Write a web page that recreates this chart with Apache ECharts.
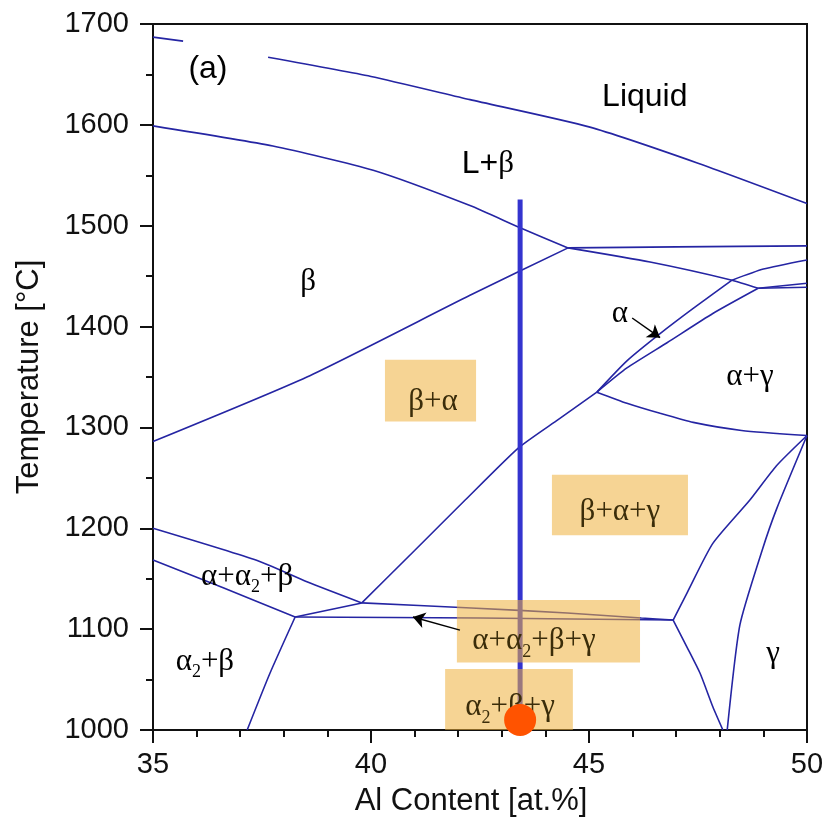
<!DOCTYPE html>
<html><head><meta charset="utf-8">
<script src="https://cdn.jsdelivr.net/npm/echarts@6/dist/echarts.min.js"></script>
<style>html,body{margin:0;padding:0;background:#fff}#c{width:828px;height:828px}</style>
</head><body><div id="c"></div>
<script>
// ---- axes ----
const xTicks = [35, 40, 45, 50];
const yTicks = [1000, 1100, 1200, 1300, 1400, 1500, 1600, 1700];

// ---- phase boundaries [Al at.%, T °C] ----
const liquidusA = [[35, 1687], [35.69, 1683]];
const liquidusB = [[37.64, 1667], [40, 1648], [42.27, 1625], [45, 1598], [47.5, 1562], [50, 1522]];
const betaSolidus = [[35, 1599], [37.75, 1579], [40.05, 1555], [42.27, 1520], [43.42, 1498], [44.52, 1478]];
const peritectic = [[44.52, 1478], [47, 1479], [50, 1480]];
const betaTransus = [[35, 1286], [38.53, 1350], [42.27, 1431], [44.52, 1478]];
const alphaSolidus = [[44.52, 1478], [46.4, 1464], [48.28, 1446], [48.88, 1438]];
const alphaLiquidus = [[48.28, 1446], [49, 1457], [50, 1466]];
const gammaPeritecticA = [[48.88, 1438], [50, 1443]];
const gammaPeritecticB = [[48.88, 1438], [50, 1439]];
const alphaLeft = [[48.28, 1446], [47.39, 1418], [46.63, 1393], [45.87, 1366], [45.18, 1335]];
const alphaRight = [[48.88, 1438], [47.84, 1413], [46.79, 1384], [45.87, 1359], [45.18, 1335]];
const betaAlphaLower = [[45.18, 1335], [44.3, 1308], [43.39, 1280], [42.16, 1228], [41, 1178], [39.79, 1126]];
const alphaGammaLower = [[45.18, 1335], [45.87, 1324], [46.63, 1314], [47.39, 1305], [48.5, 1297], [50, 1292]];
const gammaLeftUpper = [[50, 1292], [49.3, 1262], [48.69, 1228], [47.84, 1185], [47.25, 1136], [46.93, 1109]];
const gammaSolvus = [[50, 1292], [49.31, 1220], [48.97, 1178], [48.46, 1104], [48.17, 1000]];
const gammaLeftLower = [[46.93, 1109], [47.25, 1082], [47.55, 1056], [47.84, 1023], [48.07, 1000]];
const eutectoidLower = [[38.26, 1112], [42.5, 1111], [46.93, 1109]];
const eutectoidUpper = [[39.79, 1126], [42.3, 1121], [44.5, 1116], [46.2, 1111], [46.93, 1109]];
const eutectoidLink = [[38.26, 1112], [39.79, 1126]];
const alpha2UpperLeft = [[35, 1200], [37.39, 1168], [38.53, 1147], [39.79, 1126]];
const alpha2LowerLeft = [[35, 1168.5], [36.61, 1141], [38.26, 1112]];
const alpha2Boundary = [[38.26, 1112], [37.68, 1056], [37.16, 1000]];

// ---- alloy marker ----
const alloyLine = [[43.42, 1526], [43.42, 1010]];
const alloyPoint = [[43.42, 1010]];

// ---- highlighted region boxes [x0, x1, T0, T1] ----
const boxes = [
  [40.32, 42.41, 1306, 1367],
  [44.15, 47.27, 1193, 1253],
  [41.97, 46.17, 1067, 1129],
  [41.70, 44.63, 1000, 1060.5]
];

// ---- arrows [x0, T0, x1, T1] ----
const arrows = [
  [45.99, 1408.5, 46.63, 1389],
  [42.04, 1099, 40.96, 1112]
];

// ---- region labels [x, T, rich text] ----
const plainLabels = [
  [36.26, 1655, '{sa|(a)}'],
  [46.28, 1627, '{sl|Liquid}'],
  [42.68, 1561, '{sa|L+}{se|β}'],
  [38.56, 1444, '{se|β}'],
  [45.71, 1413, '{se|α}'],
  [48.69, 1350, '{se|α+γ}'],
  [37.16, 1152, '{se|α+α}{sb|2}{se|+β}'],
  [36.19, 1068, '{se|α}{sb|2}{se|+β}'],
  [49.22, 1075, '{se|γ}']
];
const boxLabels = [
  [41.42, 1325, '{be|β+α}'],
  [45.71, 1216, '{be|β+α+γ}'],
  [43.74, 1088, '{be|α+α}{bb|2}{be|+β+γ}'],
  [43.19, 1023, '{be|α}{bb|2}{be|+β+γ}']
];

const phaseColor = '#2525a3';
const curves = [liquidusA, liquidusB, betaSolidus, peritectic, betaTransus, alphaSolidus, alphaLiquidus,
  gammaPeritecticA, gammaPeritecticB, alphaLeft, alphaRight, betaAlphaLower, alphaGammaLower,
  gammaLeftUpper, gammaSolvus, gammaLeftLower, eutectoidLower, eutectoidUpper, eutectoidLink,
  alpha2UpperLeft, alpha2LowerLeft, alpha2Boundary];

const series = curves.map(c => ({
  type: 'line', data: c, symbol: 'none', smooth: c.length > 2 ? 0.2 : false,
  lineStyle: { color: phaseColor, width: 1.6 }, z: 2, silent: true, animation: false
}));

series.push({
  type: 'line', data: alloyLine, symbol: 'none',
  lineStyle: { color: '#3434cf', width: 5 }, z: 3, silent: true
});

series.push({
  type: 'custom', z: 5, silent: true, data: boxes,
  encode: { x: [0, 1], y: [2, 3] },
  renderItem: function (params, api) {
    const p0 = api.coord([api.value(0), api.value(3)]);
    const p1 = api.coord([api.value(1), api.value(2)]);
    return { type: 'rect', shape: { x: p0[0], y: p0[1], width: p1[0] - p0[0], height: p1[1] - p0[1] },
      style: { fill: 'rgba(239,177,60,0.55)' } };
  }
});

const rich = {
  sa: { fontFamily: 'Liberation Sans', fontSize: 32, color: '#000', lineHeight: 40 },
  sl: { fontFamily: 'Liberation Sans', fontSize: 32, color: '#000', lineHeight: 40 },
  se: { fontFamily: 'Liberation Serif', fontSize: 31, color: '#000', lineHeight: 40 },
  sb: { fontFamily: 'Liberation Serif', fontSize: 18, color: '#000', lineHeight: 14, verticalAlign: 'bottom' },
  be: { fontFamily: 'Liberation Serif', fontSize: 31, color: '#3b2d0a', lineHeight: 40 },
  bb: { fontFamily: 'Liberation Serif', fontSize: 18, color: '#3b2d0a', lineHeight: 14, verticalAlign: 'bottom' }
};

series.push({
  type: 'scatter', z: 8, silent: true, symbolSize: 1, itemStyle: { color: 'rgba(0,0,0,0)', opacity: 1 },
  data: plainLabels.concat(boxLabels).map(l => ({ value: [l[0], l[1]], label: { formatter: l[2] } })),
  label: { show: true, position: 'inside', align: 'center', verticalAlign: 'middle', rich: rich, opacity: 1 }
});

series.push({
  type: 'lines', coordinateSystem: 'cartesian2d', z: 9, silent: true,
  symbol: ['none', 'arrow'], symbolSize: 12,
  lineStyle: { color: '#000', width: 1.5, opacity: 1, curveness: 0 },
  data: arrows.map(a => ({ coords: [[a[0], a[1]], [a[2], a[3]]] }))
});

series.push({
  type: 'scatter', z: 10, silent: true, data: alloyPoint, symbolSize: 32,
  itemStyle: { color: '#ff5300', opacity: 1 }
});

const axisCommon = {
  type: 'value',
  axisLine: { show: true, onZero: false, lineStyle: { color: '#111', width: 2 } },
  axisTick: { show: true, length: 13, lineStyle: { color: '#111', width: 2 } },
  splitLine: { show: false },
  minorSplitLine: { show: false },
  axisLabel: { fontSize: 29, color: '#111', fontFamily: 'Liberation Sans', formatter: v => String(v) },
  nameLocation: 'middle',
  nameTextStyle: { fontSize: 31, color: '#111', fontFamily: 'Liberation Sans' }
};

const chart = echarts.init(document.getElementById('c'), null, { renderer: 'canvas' });
chart.setOption({
  animation: false,
  backgroundColor: '#fff',
  grid: { left: 153, right: 21, top: 24, bottom: 98, show: true, borderColor: '#111', borderWidth: 2 },
  xAxis: Object.assign({}, axisCommon, {
    min: xTicks[0], max: xTicks[xTicks.length - 1], interval: 5,
    minorTick: { show: true, splitNumber: 5, length: 7, lineStyle: { color: '#111', width: 2 } },
    axisLabel: Object.assign({}, axisCommon.axisLabel, { margin: 20 }),
    name: 'Al Content [at.%]', nameGap: 56,
    nameTextStyle: Object.assign({}, axisCommon.nameTextStyle, { padding: [0, 18, 0, 0] })
  }),
  yAxis: Object.assign({}, axisCommon, {
    min: yTicks[0], max: yTicks[yTicks.length - 1], interval: 100,
    minorTick: { show: true, splitNumber: 2, length: 7, lineStyle: { color: '#111', width: 2 } },
    axisLabel: Object.assign({}, axisCommon.axisLabel, { margin: 24 }),
    name: 'Temperature [°C]', nameGap: 108
  }),
  series: series
});
</script>
</body></html>
